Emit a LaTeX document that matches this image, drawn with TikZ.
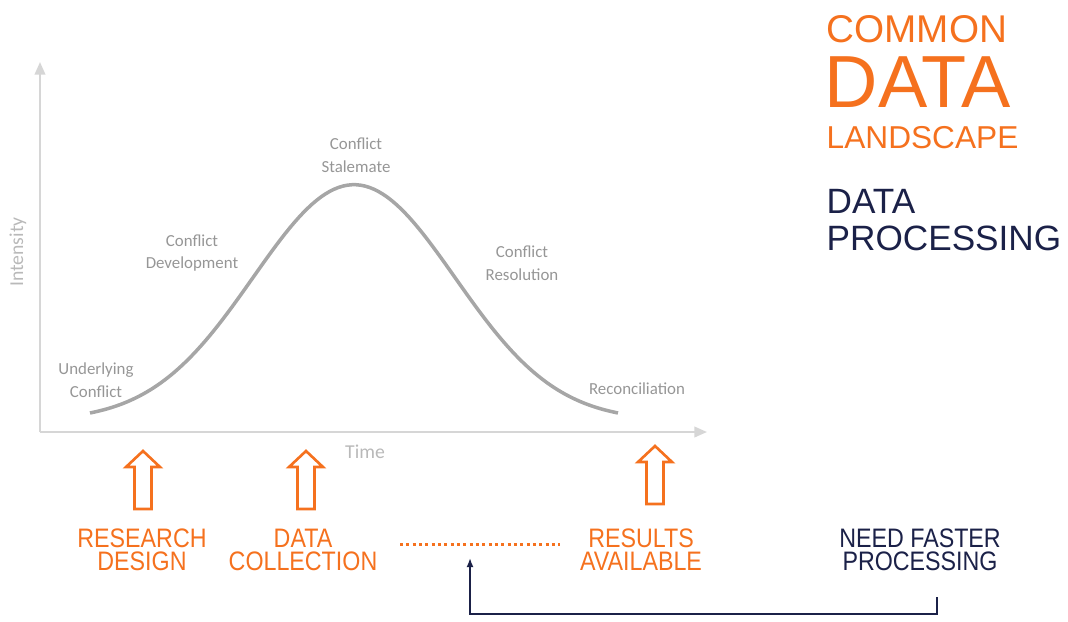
\documentclass[tikz,border=0pt]{standalone}
\usepackage{fontspec}
\usepackage{tikz}
\usetikzlibrary{arrows.meta}
\setmainfont{Liberation Sans}
\newfontfamily\narrowsans[FakeStretch=0.87]{Liberation Sans}
\newfontfamily\calib{Carlito}
\definecolor{ocre}{RGB}{245,113,30}
\definecolor{navy}{RGB}{27,33,72}
\definecolor{axisgray}{RGB}{214,214,214}
\definecolor{curvegray}{RGB}{166,166,166}
\definecolor{phasegray}{RGB}{150,150,150}
\definecolor{axislabel}{RGB}{185,185,185}

\begin{document}
\begin{tikzpicture}[x=0.01cm,y=-0.01cm,
  axisline/.style={line width=0.6pt, axisgray, -{Triangle[length=3.6pt,width=3pt]}},
  bellcurve/.style={line width=1pt, curvegray},
  phase/.style={inner sep=0, align=center, text=phasegray, font=\calib\fontsize{4.8}{6.4}\selectfont},
  axistext/.style={inner sep=0, text=axislabel, font=\calib\fontsize{5.6}{6.6}\selectfont},
  hollowarrow/.style={line width=0.75pt, ocre, line join=miter},
  stagetext/.style={inner sep=0, align=center, text=ocre, font=\narrowsans\fontsize{7.6}{6.6}\selectfont},
  needtext/.style={stagetext, text=navy},
  feedback/.style={line width=0.45pt, navy, -{Latex[length=2.6pt,width=2pt]}}]
\useasboundingbox (0,0) rectangle (1068,621);

% axes
\draw [axisline] (40,432) -- (40,62);
\draw [axisline] (40,432) -- (707,432);
\node [axistext, rotate=90] (intensity) at (18,252) {Intensity};
\node [axistext] (time) at (365,452) {Time};

% conflict curve
\draw [bellcurve, domain=90:618, samples=120] plot (\x,{416-236*(exp(-((\x-354)/101)^2/2)-0.02)});
\node [phase] (underlying) at (96,380) {Underlying\\Conflict};
\node [phase] (development) at (192,253) {Conflict\\Development};
\node [phase] (stalemate) at (356,155) {Conflict\\Stalemate};
\node [phase] (resolution) at (522,263) {Conflict\\Resolution};
\node [phase] (reconciliation) at (637,389) {Reconciliation};

% hollow arrows
\foreach \ax/\ay in {143/451, 306/451, 655/446}
  \draw [hollowarrow] (\ax,\ay) -- ++(17,16) -- ++(-8.5,0) -- ++(0,42) -- ++(-17,0) -- ++(0,-42) -- ++(-8.5,0) -- cycle;

% stages
\node [stagetext] (research) at (142,550) {RESEARCH\\DESIGN};
\node [stagetext] (collection) at (303,550) {DATA\\COLLECTION};
\node [stagetext] (results) at (641,550) {RESULTS\\AVAILABLE};
\node [needtext] (need) at (920,550) {NEED FASTER\\PROCESSING};
\coordinate (gapL) at (400,544);
\coordinate (gapR) at (560,544);
\draw [ocre, line width=0.85pt, dash pattern=on 0.85pt off 0.95pt] (gapL) -- (gapR);

% feedback loop
\coordinate (loopR) at (937,597);
\coordinate (gaptip) at (470,558);
\draw [feedback] (loopR) -- ++(0,17) -| (gaptip);

% title
\node [inner sep=0, anchor=base west, text=ocre, font=\fontsize{11}{11}\selectfont] (common) at (826,42) {COMMON};
\node [inner sep=0, anchor=base west, text=ocre, font=\fontsize{21}{21}\selectfont] (data) at (824,107) {DATA};
\node [inner sep=0, anchor=base west, text=ocre, font=\fontsize{9}{9}\selectfont] (landscape) at (826,148) {LANDSCAPE};
\node [inner sep=0, anchor=base west, text=navy, font=\fontsize{10}{10}\selectfont] (dataproc) at (826,213) {DATA};
\node [inner sep=0, anchor=base west, text=navy, font=\fontsize{10}{10}\selectfont] (processing) at (826,250) {PROCESSING};
\end{tikzpicture}
\end{document}
